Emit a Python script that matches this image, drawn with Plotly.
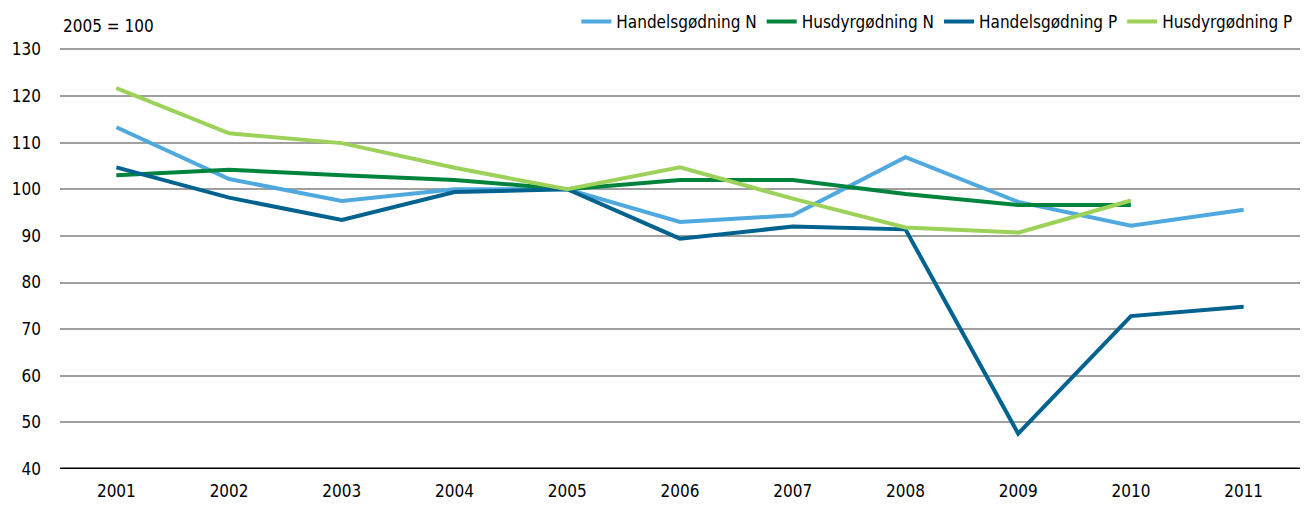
import plotly.graph_objects as go

years = ["2001", "2002", "2003", "2004", "2005", "2006", "2007", "2008", "2009", "2010", "2011"]

handel_n = [113.3, 102.2, 97.5, 100.0, 100.0, 93.0, 94.4, 106.9, 97.3, 92.2, 95.6]
husdyr_n = [103.0, 104.2, 103.0, 102.0, 100.0, 102.0, 102.0, 99.0, 96.6, 96.6, None]
handel_p = [104.7, 98.2, 93.4, 99.4, 100.0, 89.4, 92.0, 91.4, 47.6, 72.8, 74.8]
husdyr_p = [121.7, 112.0, 109.9, 104.6, 100.0, 104.7, 98.0, 91.8, 90.7, 97.6, None]

series = [
    ("Handelsgødning N", handel_n, "#4fa9df"),
    ("Husdyrgødning N", husdyr_n, "#00843d"),
    ("Handelsgødning P", handel_p, "#00628f"),
    ("Husdyrgødning P", husdyr_p, "#9dd25a"),
]

font_family = "DejaVu Sans Condensed, sans-serif"

fig = go.Figure()
for name, vals, color in series:
    fig.add_trace(go.Scatter(
        x=years, y=vals, name=name, mode="lines",
        line=dict(color=color, width=4),
        connectgaps=False,
    ))

# page body adds an 8px offset, so the figure is 8px smaller than the window
fig.update_layout(
    width=1305, height=497,
    paper_bgcolor="white", plot_bgcolor="white",
    font=dict(family=font_family, size=17, color="black"),
    margin=dict(l=52, r=13, t=40, b=36, autoexpand=False),
    showlegend=True,
    legend=dict(
        orientation="h", xref="container", x=0.988, xanchor="right",
        yref="container", y=0.972, yanchor="middle",
        font=dict(size=17), bgcolor="rgba(0,0,0,0)",
        itemwidth=30, tracegroupgap=0,
    ),
    annotations=[dict(
        text="2005 = 100", x=0, xref="paper", xanchor="left", xshift=1,
        y=1.052, yref="paper", yanchor="middle",
        showarrow=False, font=dict(size=17),
    )],
)

fig.update_xaxes(
    type="category", range=[-0.5, 10.5], showgrid=False, showline=False,
    zeroline=False, ticks="", ticklabelstandoff=10, tickfont=dict(size=17),
)
fig.update_yaxes(
    range=[40, 130.3], dtick=10, showgrid=True, gridcolor="#a0a0a0", gridwidth=1.5,
    zeroline=False, showline=False, ticks="", ticklabelstandoff=18,
    tickfont=dict(size=17),
)
fig.add_hline(y=40, line=dict(color="black", width=3))

fig.write_html("out.html")
